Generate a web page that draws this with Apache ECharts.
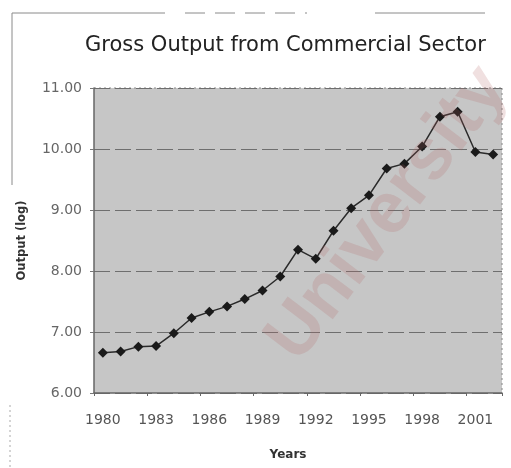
<!DOCTYPE html>
<html>
<head>
<meta charset="utf-8">
<script src="https://cdn.jsdelivr.net/npm/echarts@6/dist/echarts.min.js"></script>
<style>
  html, body { margin: 0; padding: 0; background: #fff; }
  #chart { width: 511px; height: 468px; }
</style>
</head>
<body>
<div id="chart"></div>
<script>
// Gross output of the commercial sector, log scale, 1980-2002
const years = ['1980','1981','1982','1983','1984','1985','1986','1987','1988','1989','1990',
               '1991','1992','1993','1994','1995','1996','1997','1998','1999','2000','2001','2002'];
const outputLog = [6.66, 6.68, 6.76, 6.77, 6.98, 7.23, 7.33, 7.42, 7.54, 7.68, 7.91,
                   8.35, 8.20, 8.66, 9.03, 9.24, 9.68, 9.76, 10.04, 10.53, 10.61, 9.95, 9.91];
const yTicks = [6, 7, 8, 9, 10, 11];

const chart = echarts.init(document.getElementById('chart'), null, { renderer: 'canvas' });

const font = '"DejaVu Sans", Verdana, sans-serif';

chart.setOption({
  backgroundColor: '#ffffff',
  animation: false,
  title: {
    text: 'Gross Output from Commercial Sector',
    left: 80,
    top: 30,
    textStyle: { fontFamily: font, fontSize: 21, fontWeight: 'normal', color: '#222' }
  },
  grid: { left: 94, right: 9, top: 88, bottom: 75, containLabel: false,
          show: true, backgroundColor: '#c6c6c6', borderWidth: 0 },
  xAxis: {
    type: 'category',
    data: years,
    boundaryGap: true,
    name: 'Years',
    nameLocation: 'middle',
    nameGap: 56,
    nameTextStyle: { fontFamily: font, fontSize: 12, fontWeight: 'bold', color: '#333', padding: [0, 20, 0, 0] },
    axisLine: { lineStyle: { color: '#666', width: 1.5 } },
    axisTick: { show: true, alignWithLabel: false, length: 3, lineStyle: { color: '#666' } },
    axisLabel: {
      interval: 2,
      margin: 20,
      fontFamily: font, fontSize: 14, color: '#555'
    },
    splitLine: { show: false }
  },
  yAxis: {
    type: 'value',
    min: yTicks[0],
    max: yTicks[yTicks.length - 1],
    interval: 1,
    name: 'Output (log)',
    nameLocation: 'middle',
    nameRotate: 90,
    nameGap: 66,
    nameTextStyle: { fontFamily: font, fontSize: 11.5, fontWeight: 'bold', color: '#333' },
    axisLine: { show: true, lineStyle: { color: '#666', width: 1.5 } },
    axisTick: { show: true, length: 4, lineStyle: { color: '#777' } },
    axisLabel: {
      margin: 12,
      fontFamily: font, fontSize: 14, color: '#666',
      formatter: v => v.toFixed(2)
    },
    splitLine: { show: true, lineStyle: { color: '#6e6e6e', width: 1, type: [16, 5] } }
  },
  series: [{
    type: 'line',
    data: outputLog,
    symbol: 'diamond',
    symbolSize: 10,
    itemStyle: { color: '#1a1a1a' },
    lineStyle: { color: '#2a2a2a', width: 1.5 },
    z: 5
  }],
  graphic: [
    // faded chart-area frame
    { type: 'line', shape: { x1: 12, y1: 13, x2: 165, y2: 13 }, style: { stroke: '#8a8a8a', lineWidth: 1 }, silent: true },
    { type: 'line', shape: { x1: 185, y1: 13, x2: 307, y2: 13 }, style: { stroke: '#8a8a8a', lineWidth: 1, lineDash: [20, 10] }, silent: true },
    { type: 'line', shape: { x1: 375, y1: 13, x2: 485, y2: 13 }, style: { stroke: '#8a8a8a', lineWidth: 1 }, silent: true },
    { type: 'line', shape: { x1: 12, y1: 13, x2: 12, y2: 185 }, style: { stroke: '#8a8a8a', lineWidth: 1 }, silent: true },
    { type: 'line', shape: { x1: 10, y1: 405, x2: 10, y2: 468 }, style: { stroke: '#aaa', lineWidth: 1, lineDash: [2, 3] }, silent: true },
    // dotted right and top edges of the plot area
    { type: 'line', shape: { x1: 502, y1: 88, x2: 502, y2: 393 }, style: { stroke: '#888', lineWidth: 1, lineDash: [2, 3] }, silent: true },
    { type: 'line', shape: { x1: 94, y1: 88, x2: 502, y2: 88 }, style: { stroke: '#888', lineWidth: 1, lineDash: [2, 3] }, silent: true },
    // watermark
    {
      type: 'text',
      x: 388, y: 214,
      rotation: 0.92,
      silent: true,
      z: 100,
      style: {
        text: 'University',
        fontFamily: '"Liberation Sans", Arial, sans-serif',
        fontSize: 72,
        fontWeight: 'bold',
        fill: 'rgba(180, 100, 100, 0.2)',
        align: 'center',
        verticalAlign: 'middle'
      }
    }
  ]
});
</script>
</body>
</html>
